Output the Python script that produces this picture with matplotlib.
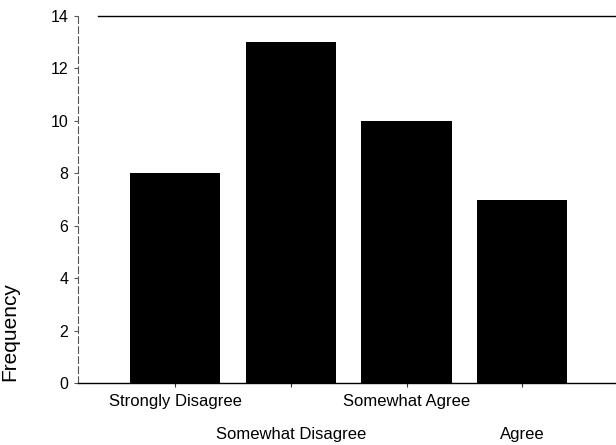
import matplotlib
matplotlib.use("Agg")
import matplotlib.pyplot as plt

categories = ["Strongly Disagree", "Somewhat Disagree", "Somewhat Agree", "Agree"]
frequency = [8, 13, 10, 7]
yticks = [0, 2, 4, 6, 8, 10, 12, 14]

plt.rcParams['font.family'] = ['Liberation Sans', 'DejaVu Sans']

fig = plt.figure(figsize=(6.16, 4.45), dpi=100)
ax = fig.add_axes([0.1266, 0.1393, 0.8734, 0.8247])

x = list(range(len(categories)))
ax.bar(x, frequency, width=0.78, color='black')
ax.set_xlim(-0.84, 3.81)
ax.set_ylim(0, 14)

ax.set_yticks(yticks)
ax.set_yticklabels([str(v) for v in yticks], fontsize=11.5)
ax.tick_params(axis='y', length=3, width=0.8, pad=4, color='#555555')
ax.set_xticks(x)
ax.set_xticklabels(categories, fontsize=12)
ax.tick_params(axis='x', length=3, width=0.8, color='#333333')
for i, t in enumerate(ax.xaxis.get_major_ticks()):
    t.set_pad(5 if i % 2 == 0 else 29)

for s in ['top', 'right']:
    ax.spines[s].set_visible(False)
ax.spines['left'].set_linestyle((0, (6, 3)))
ax.spines['left'].set_linewidth(0.8)
ax.spines['left'].set_color('#555555')
ax.spines['bottom'].set_linewidth(1.0)
ax.plot([-0.67, 3.81], [14, 14], color='black', linewidth=1.0, clip_on=False)

ax.set_ylabel("Frequency", fontsize=15)
ax.yaxis.set_label_coords(-0.11, 0.14)

fig.savefig("out.png", dpi=100)
